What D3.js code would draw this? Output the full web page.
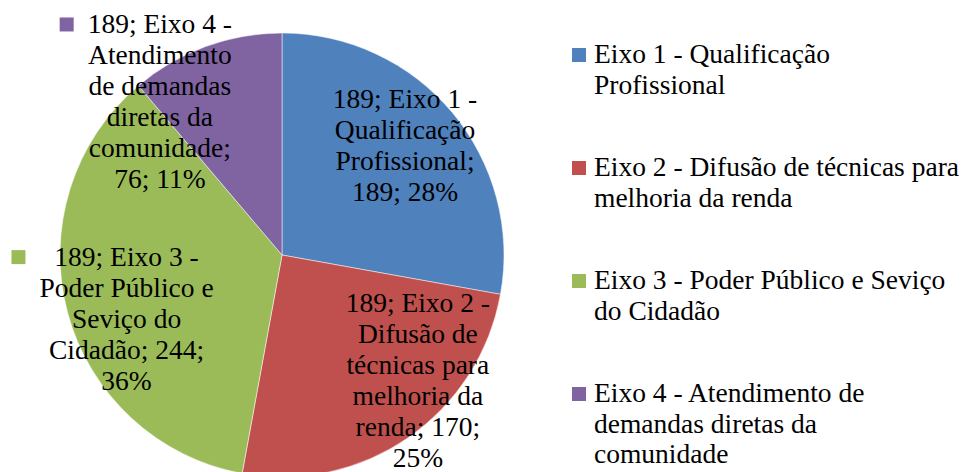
<!DOCTYPE html>
<html>
<head>
<meta charset="utf-8">
<script src="https://cdn.jsdelivr.net/npm/d3@7/dist/d3.min.js"></script>
<style>
  html, body { margin: 0; padding: 0; background: #fff; }
  svg { display: block; }
  text { font-family: "Liberation Serif", "Times New Roman", serif; fill: #000; }
</style>
</head>
<body>
<svg id="chart" width="961" height="472"></svg>
<script>
// ---- data ----
const seriesName = "189";
const categories = [
  "Eixo 1 - Qualificação Profissional",
  "Eixo 2 - Difusão de técnicas para melhoria da renda",
  "Eixo 3 - Poder Público e Seviço do Cidadão",
  "Eixo 4 - Atendimento de demandas diretas da comunidade"
];
const values = [189, 170, 244, 76];
const colors = ["#4F81BD", "#C0504D", "#9BBB59", "#8064A2"];

// ---- text wrapping (words per line) ----
const labelWordsPerLine = [[4,1,1,2],[4,2,2,2,2,1],[4,3,2,2,1],[4,1,2,2,1,2]];
const legendWordsPerLine = [[4,1],[7,3],[7,2],[5,3,1]];
const labelShowKey = [false, false, true, true];

// ---- layout ----
const W = 961, H = 472;
const cx = 282, cy = 255, R = 222;
const labelR = 163;
const labelNudge = [[-2,-2],[43,-5],[2,25],[-66,3]];
const fontSize = 27.5;
const lineH = 31;
const legendX = 572, legendY0 = 63, legendStep = 113, legendLineH = 30.5, keySize = 14;

const svg = d3.select("#chart");
const total = d3.sum(values);
const data = categories.map((c, i) => ({cat: c, value: values[i], color: colors[i], i}));

const pie = d3.pie().sort(null).value(d => d.value).startAngle(0).endAngle(2 * Math.PI);
const arcs = pie(data);
const arc = d3.arc().innerRadius(0).outerRadius(R);
const labelArc = d3.arc().innerRadius(labelR).outerRadius(labelR);

const g = svg.append("g").attr("transform", `translate(${cx},${cy})`);
g.selectAll("path.slice").data(arcs).join("path")
  .attr("class", "slice")
  .attr("d", arc)
  .attr("fill", d => d.data.color)
  .attr("stroke", "#fff")
  .attr("stroke-width", 0.5);

function wrap(str, counts) {
  const words = str.split(" ");
  const lines = [];
  let k = 0;
  counts.forEach(n => { lines.push(words.slice(k, k + n).join(" ")); k += n; });
  return lines;
}

// data labels
arcs.forEach((a, i) => {
  const pct = Math.round(a.data.value / total * 100);
  const full = `${seriesName}; ${a.data.cat}; ${a.data.value}; ${pct}%`;
  const lines = wrap(full, labelWordsPerLine[i]);
  const [px, py] = labelArc.centroid(a);
  const x = cx + px + labelNudge[i][0];
  const yc = cy + py + labelNudge[i][1];
  const firstBase = yc + 6 - (lines.length - 1) * lineH / 2;
  const t = svg.append("text")
    .attr("text-anchor", "middle")
    .style("font-size", fontSize + "px");
  lines.forEach((ln, j) => {
    t.append("tspan").attr("x", x).attr("y", firstBase + j * lineH).text(ln);
  });
  if (labelShowKey[i]) {
    const bb = t.node().getBBox();
    svg.append("rect")
      .attr("x", bb.x - 14 - keySize)
      .attr("y", firstBase - 2 - keySize)
      .attr("width", keySize).attr("height", keySize)
      .attr("fill", a.data.color);
  }
});

// legend
data.forEach((d, i) => {
  const base = legendY0 + i * legendStep;
  svg.append("rect")
    .attr("x", legendX).attr("y", base - 1 - keySize)
    .attr("width", keySize).attr("height", keySize)
    .attr("fill", d.color);
  const t = svg.append("text").style("font-size", fontSize + "px");
  wrap(d.cat, legendWordsPerLine[i]).forEach((ln, j) => {
    t.append("tspan").attr("x", legendX + 22).attr("y", base + j * legendLineH).text(ln);
  });
});
</script>
</body>
</html>
